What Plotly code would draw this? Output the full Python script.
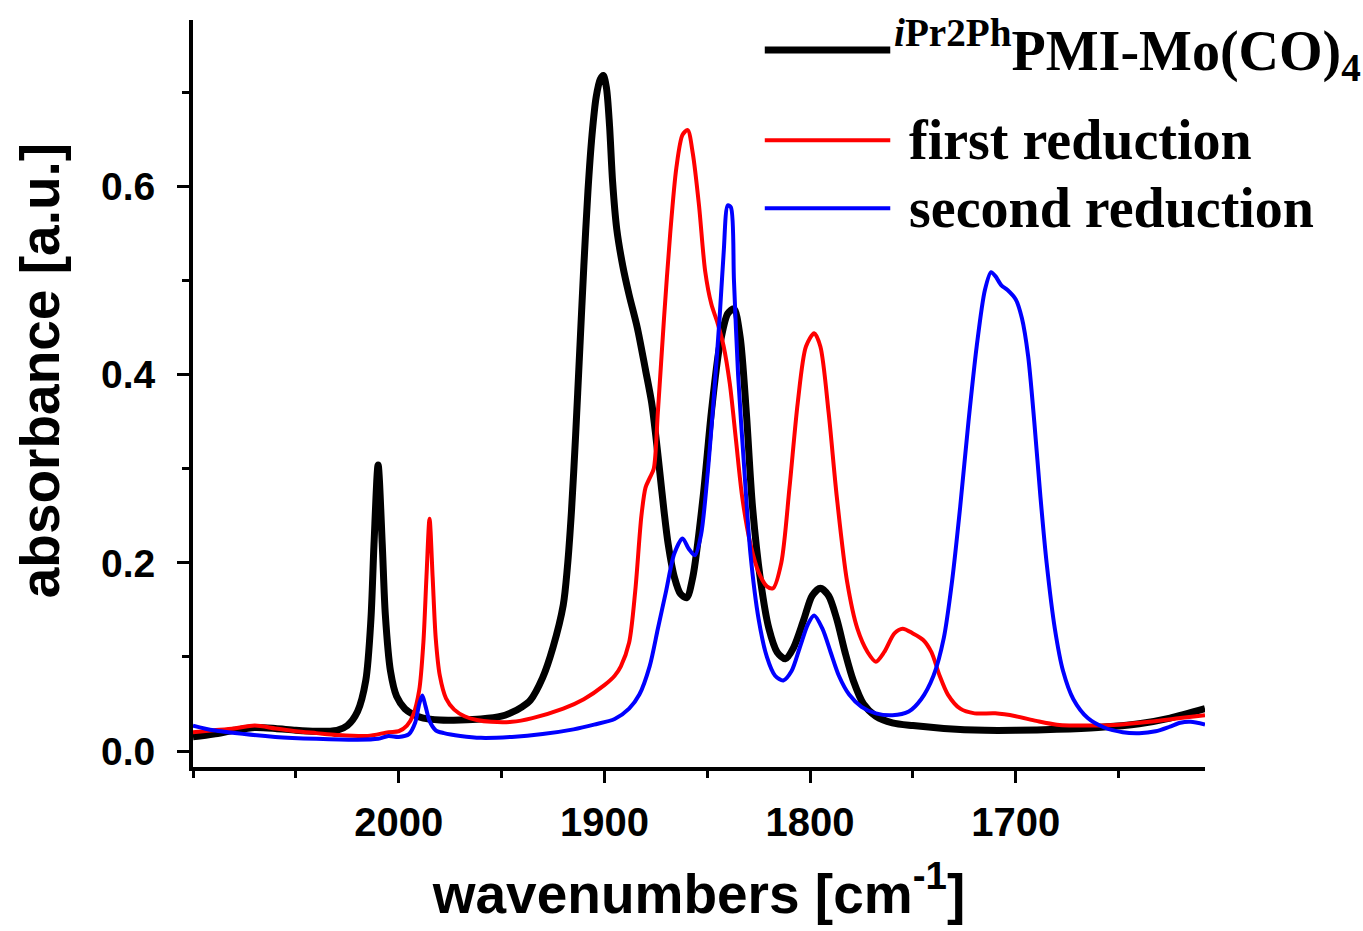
import plotly.graph_objects as go

# ---- data ----
black_wn = [2100, 2090, 2080, 2070, 2060, 2050, 2040, 2030, 2025, 2020, 2016, 2013.5, 2012, 2010, 2008, 2006.5, 2004, 2001, 1997,
            1993, 1988, 1980, 1970, 1960, 1950, 1945, 1940, 1936, 1930, 1925, 1920, 1918, 1916, 1914, 1912, 1910, 1908, 1906, 1904,
            1902, 1900.5, 1899, 1897.5, 1896, 1894, 1891, 1888, 1884, 1880, 1877, 1875, 1873, 1871, 1869, 1866, 1863, 1860, 1857,
            1852, 1848, 1844, 1840, 1837, 1834, 1831, 1828, 1824, 1820, 1816, 1812, 1808, 1803, 1799, 1795, 1791, 1787, 1783, 1779,
            1774, 1768, 1760, 1750, 1735, 1715, 1700, 1680, 1660, 1640, 1625, 1608]
black_abs = [0.015, 0.018, 0.022, 0.025, 0.024, 0.022, 0.021, 0.022, 0.027, 0.042, 0.075, 0.14, 0.22, 0.304, 0.22, 0.145, 0.085, 0.058, 0.045,
             0.039, 0.035, 0.033, 0.033, 0.034, 0.037, 0.041, 0.047, 0.054, 0.078, 0.11, 0.155, 0.195, 0.255, 0.335, 0.425, 0.515, 0.595, 0.655, 0.695,
             0.714, 0.718, 0.705, 0.665, 0.605, 0.555, 0.515, 0.485, 0.45, 0.405, 0.37, 0.335, 0.295, 0.255, 0.22, 0.185, 0.167, 0.163, 0.185,
             0.27, 0.36, 0.43, 0.465, 0.47, 0.44, 0.36, 0.26, 0.18, 0.13, 0.105, 0.098, 0.11, 0.14, 0.165, 0.173, 0.165, 0.14, 0.105, 0.075,
             0.05, 0.037, 0.03, 0.027, 0.024, 0.022, 0.022, 0.023, 0.025, 0.029, 0.035, 0.045]

red_wn = [2100, 2090, 2080, 2070, 2060, 2050, 2040, 2030, 2015, 2005, 2000, 1996, 1993, 1990, 1988, 1986.5, 1985, 1983.5, 1982, 1980,
          1977, 1973, 1968, 1962, 1955, 1945, 1935, 1920, 1910, 1900, 1895, 1892, 1888, 1885, 1882, 1880, 1878, 1876, 1874, 1871,
          1868, 1865, 1862, 1859.5, 1857, 1854, 1851, 1848, 1845, 1842, 1839, 1836, 1833, 1829, 1825, 1821, 1818, 1814, 1810, 1806,
          1802, 1798, 1795, 1791, 1787, 1782, 1777, 1772, 1768, 1764, 1759, 1755, 1750, 1745, 1741, 1737, 1733, 1727, 1720, 1710,
          1700, 1690, 1680, 1665, 1650, 1635, 1620, 1608]
red_abs = [0.02, 0.022, 0.024, 0.027, 0.024, 0.021, 0.019, 0.017, 0.016, 0.02, 0.021, 0.027, 0.038, 0.065, 0.115, 0.185, 0.247, 0.185, 0.12, 0.08,
           0.056, 0.044, 0.037, 0.033, 0.031, 0.031, 0.035, 0.045, 0.055, 0.07, 0.08, 0.09, 0.115, 0.17, 0.25, 0.28, 0.29, 0.3, 0.36, 0.46,
           0.55, 0.62, 0.655, 0.66, 0.635, 0.58, 0.51, 0.475, 0.455, 0.43, 0.39, 0.33, 0.27, 0.22, 0.19, 0.175, 0.173, 0.2, 0.28, 0.37,
           0.43, 0.444, 0.43, 0.36, 0.27, 0.18, 0.13, 0.105, 0.095, 0.105, 0.125, 0.13, 0.125, 0.118, 0.105, 0.08, 0.06, 0.045, 0.04, 0.04,
           0.037, 0.032, 0.028, 0.027, 0.028, 0.031, 0.035, 0.038]

blue_wn = [2100, 2090, 2075, 2060, 2040, 2020, 2010, 2005, 2000, 1995, 1992, 1990, 1988.5, 1987, 1985, 1982, 1978, 1970, 1960, 1945,
           1930, 1915, 1905, 1895, 1888, 1883, 1878, 1874, 1870, 1866, 1862, 1859, 1856, 1853, 1850, 1847, 1844, 1842, 1840, 1838.5,
           1837, 1835, 1832, 1829, 1825, 1821, 1817, 1813, 1809, 1805, 1801, 1798, 1794, 1790, 1786, 1781, 1775, 1768, 1760, 1752,
           1746, 1740, 1735, 1731, 1727, 1723, 1719, 1715, 1712, 1710, 1707, 1704, 1700, 1697, 1694, 1691, 1688, 1685, 1681, 1677,
           1672, 1665, 1657, 1648, 1640, 1632, 1625, 1620, 1615, 1608]
blue_abs = [0.027, 0.022, 0.018, 0.015, 0.013, 0.012, 0.013, 0.016, 0.015, 0.018, 0.03, 0.05, 0.059, 0.048, 0.032, 0.022, 0.019, 0.016, 0.014, 0.015,
            0.018, 0.023, 0.028, 0.034, 0.045, 0.06, 0.09, 0.13, 0.17, 0.21, 0.226, 0.215, 0.208, 0.23, 0.29, 0.37, 0.46, 0.53, 0.58, 0.578,
            0.5, 0.4, 0.3, 0.21, 0.14, 0.1, 0.08, 0.075, 0.085, 0.11, 0.135, 0.144, 0.13, 0.105, 0.08, 0.06, 0.047, 0.04, 0.038, 0.042,
            0.055, 0.08, 0.12, 0.18, 0.26, 0.35, 0.43, 0.49, 0.509, 0.505, 0.495, 0.49, 0.48, 0.46, 0.42, 0.35, 0.27, 0.2, 0.13, 0.085,
            0.055, 0.035, 0.025, 0.02, 0.019, 0.021, 0.026, 0.03, 0.031, 0.028]

series_names = ["<sup><i>i</i>Pr2Ph</sup>PMI-Mo(CO)<sub>4</sub>", "first reduction", "second reduction"]
x_ticks = [2000, 1900, 1800, 1700]
y_ticks = [0.0, 0.2, 0.4, 0.6]
x_title = "wavenumbers [cm<sup>-1</sup>]"
y_title = "absorbance [a.u.]"

AX_FONT = "Liberation Sans, Arial, sans-serif"
LEG_FONT = "Liberation Serif, Times New Roman, serif"

fig = go.Figure()
specs = [(black_wn, black_abs, "#000000", 7),
         (red_wn, red_abs, "#ff0000", 4),
         (blue_wn, blue_abs, "#0000ff", 4)]
for (xw, ya, col, w), name in zip(specs, series_names):
    fig.add_trace(go.Scatter(x=xw, y=ya, mode="lines", name=name,
                             line=dict(color=col, width=w, shape="spline", smoothing=0.8),
                             showlegend=False, hoverinfo="skip"))

# manual legend (long sample lines like the original)
leg_y = [0.960, 0.839, 0.748]
leg_tx = [0.691, 0.706, 0.706]
for (xw, ya, col, w), name, ly, tx in zip(specs, series_names, leg_y, leg_tx):
    fig.add_shape(type="line", xref="paper", yref="paper", x0=0.565, x1=0.689, y0=ly, y1=ly,
                  line=dict(color=col, width=w))
    fig.add_annotation(xref="paper", yref="paper", x=tx, y=ly, xanchor="left", yanchor="middle",
                       text="<b>" + name + "</b>", showarrow=False,
                       font=dict(family=LEG_FONT, size=56, color="black"))

# y-axis title (placed slightly above centre, as in the original)
fig.add_annotation(xref="paper", yref="paper", x=-0.151, y=0.53, xanchor="center", yanchor="middle",
                   textangle=-90, text="<b>" + y_title + "</b>", showarrow=False,
                   font=dict(family=AX_FONT, size=55, color="black"))

fig.update_layout(
    width=1363, height=931,
    margin=dict(l=193, r=158, t=20, b=164, autoexpand=False),
    paper_bgcolor="white", plot_bgcolor="white",
    xaxis=dict(range=[2100, 1608], autorange=False, tickmode="array", tickvals=x_ticks,
               ticks="outside", ticklen=12, tickwidth=3, tickcolor="black",
               showline=True, linewidth=4, linecolor="black", showgrid=False, zeroline=False,
               minor=dict(ticks="outside", ticklen=7, tickwidth=3, tickcolor="black", dtick=50, tick0=2000, showgrid=False),
               tickfont=dict(family=AX_FONT, size=40, color="black", weight="bold"),
               ticklabelstandoff=5,
               title=dict(text=x_title, standoff=32,
                          font=dict(family=AX_FONT, size=55, color="black", weight="bold"))),
    yaxis=dict(range=[-0.017, 0.777], autorange=False, tickmode="array", tickvals=y_ticks,
               tickformat=".1f",
               ticks="outside", ticklen=12, tickwidth=3, tickcolor="black",
               showline=True, linewidth=4, linecolor="black", showgrid=False, zeroline=False,
               minor=dict(ticks="outside", ticklen=7, tickwidth=3, tickcolor="black", dtick=0.1, tick0=0, showgrid=False),
               tickfont=dict(family=AX_FONT, size=39, color="black", weight="bold"),
               ticklabelstandoff=14),
)

fig.write_html("out.html", config={"displayModeBar": False},
               post_script="document.body.style.margin='0';document.body.style.overflow='hidden';")
